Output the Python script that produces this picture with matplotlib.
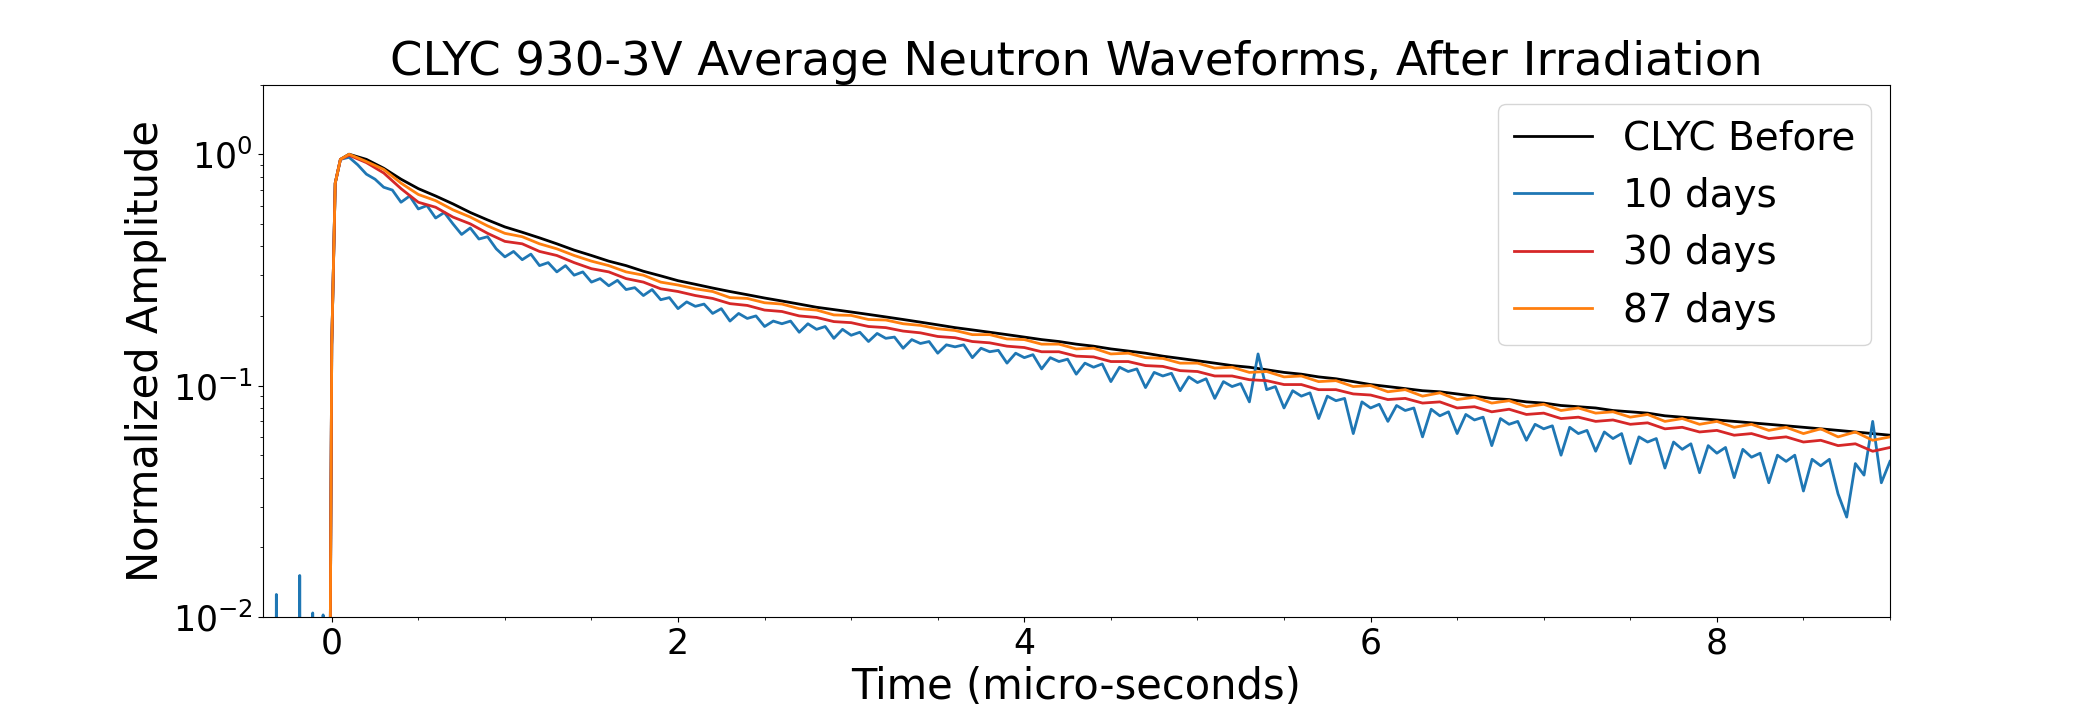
import numpy as np
import matplotlib
matplotlib.use('Agg')
import matplotlib.pyplot as plt
from matplotlib.ticker import AutoMinorLocator

# rising edge shared by all waveforms (micro-seconds, amplitude)
t_rise = [-0.4, -0.015, 0.0, 0.02, 0.05]
v_rise = [0.001, 0.001, 0.15, 0.75, 0.95]

# pre-trigger spikes seen on the 10 day waveform
t_pre_blue = [-0.4, -0.325, -0.32, -0.315, -0.19, -0.185, -0.18,
              -0.115, -0.11, -0.105, -0.055, -0.05, -0.045]
v_pre_blue = [0.001, 0.001, 0.0125, 0.001, 0.001, 0.0151, 0.001,
              0.001, 0.0104, 0.001, 0.001, 0.0102, 0.001]

t_coarse = np.round(np.arange(0.1, 9.001, 0.1), 2)
t_fine = np.round(np.arange(0.1, 9.001, 0.05), 2)

before = [1.00, 0.95, 0.87, 0.78, 0.71, 0.66, 0.61, 0.56, 0.52, 0.485,
          0.46, 0.435, 0.41, 0.385, 0.365, 0.345, 0.33, 0.312, 0.298, 0.284,
          0.274, 0.264, 0.255, 0.247, 0.239, 0.232, 0.225, 0.218, 0.213, 0.208,
          0.203, 0.198, 0.193, 0.188, 0.183, 0.178, 0.174, 0.170, 0.166, 0.162,
          0.158, 0.155, 0.151, 0.148, 0.144, 0.141, 0.138, 0.134, 0.131, 0.128,
          0.125, 0.122, 0.120, 0.117, 0.114, 0.112, 0.109, 0.107, 0.104, 0.101,
          0.099, 0.097, 0.095, 0.094, 0.092, 0.090, 0.088, 0.087, 0.085, 0.084,
          0.082, 0.081, 0.080, 0.078, 0.077, 0.076, 0.074, 0.073, 0.072, 0.071,
          0.070, 0.069, 0.068, 0.067, 0.066, 0.065, 0.064, 0.063, 0.062, 0.061]

days87 = [1.00, 0.93, 0.86, 0.75, 0.67, 0.63, 0.575, 0.535, 0.49, 0.455,
          0.44, 0.41, 0.39, 0.365, 0.345, 0.33, 0.31, 0.30, 0.28, 0.272,
          0.262, 0.255, 0.24, 0.238, 0.228, 0.225, 0.215, 0.212, 0.202, 0.201,
          0.193, 0.192, 0.185, 0.182, 0.176, 0.173, 0.166, 0.166, 0.159, 0.158,
          0.151, 0.151, 0.144, 0.145, 0.137, 0.138, 0.132, 0.131, 0.125, 0.125,
          0.119, 0.120, 0.114, 0.115, 0.109, 0.110, 0.104, 0.105, 0.099, 0.100,
          0.094, 0.096, 0.090, 0.093, 0.087, 0.089, 0.084, 0.086, 0.081, 0.083,
          0.078, 0.080, 0.076, 0.077, 0.073, 0.075, 0.070, 0.072, 0.068, 0.070,
          0.066, 0.068, 0.064, 0.066, 0.062, 0.065, 0.060, 0.063, 0.058, 0.060]

days30 = [0.99, 0.92, 0.83, 0.71, 0.62, 0.59, 0.535, 0.50, 0.455, 0.42,
          0.41, 0.38, 0.365, 0.34, 0.32, 0.31, 0.29, 0.28, 0.262, 0.255,
          0.245, 0.238, 0.226, 0.222, 0.212, 0.209, 0.200, 0.197, 0.189, 0.187,
          0.180, 0.178, 0.172, 0.169, 0.163, 0.161, 0.155, 0.153, 0.148, 0.146,
          0.140, 0.140, 0.134, 0.133, 0.127, 0.127, 0.122, 0.121, 0.116, 0.115,
          0.110, 0.110, 0.106, 0.105, 0.101, 0.101, 0.096, 0.096, 0.092, 0.091,
          0.087, 0.088, 0.084, 0.085, 0.080, 0.081, 0.077, 0.079, 0.075, 0.076,
          0.072, 0.073, 0.070, 0.071, 0.068, 0.069, 0.065, 0.066, 0.063, 0.064,
          0.061, 0.062, 0.059, 0.060, 0.057, 0.058, 0.055, 0.056, 0.052, 0.054]

days10 = [0.97, 0.90, 0.82, 0.78, 0.72, 0.70, 0.62, 0.66, 0.58, 0.60,
          0.53, 0.56, 0.50, 0.45, 0.48, 0.43, 0.44, 0.39, 0.36, 0.38,
          0.35, 0.37, 0.33, 0.34, 0.31, 0.33, 0.30, 0.31, 0.28, 0.29,
          0.27, 0.285, 0.26, 0.265, 0.245, 0.26, 0.235, 0.24, 0.215, 0.23,
          0.22, 0.225, 0.205, 0.215, 0.19, 0.205, 0.195, 0.20, 0.18, 0.19,
          0.185, 0.19, 0.17, 0.185, 0.175, 0.18, 0.16, 0.175, 0.165, 0.17,
          0.155, 0.168, 0.16, 0.162, 0.145, 0.158, 0.152, 0.155, 0.138, 0.15,
          0.147, 0.15, 0.132, 0.145, 0.14, 0.142, 0.125, 0.138, 0.132, 0.136,
          0.118, 0.132, 0.127, 0.13, 0.112, 0.125, 0.12, 0.124, 0.104, 0.12,
          0.115, 0.118, 0.098, 0.114, 0.11, 0.113, 0.095, 0.109, 0.103, 0.107,
          0.088, 0.104, 0.099, 0.102, 0.085, 0.137, 0.096, 0.099, 0.08, 0.095,
          0.09, 0.093, 0.072, 0.09, 0.086, 0.088, 0.062, 0.085, 0.08, 0.083,
          0.07, 0.082, 0.078, 0.08, 0.06, 0.079, 0.074, 0.077, 0.062, 0.075,
          0.071, 0.073, 0.055, 0.072, 0.068, 0.07, 0.058, 0.068, 0.065, 0.067,
          0.05, 0.066, 0.062, 0.064, 0.052, 0.063, 0.059, 0.062, 0.046, 0.06,
          0.057, 0.059, 0.044, 0.057, 0.053, 0.056, 0.042, 0.055, 0.051, 0.054,
          0.04, 0.053, 0.049, 0.051, 0.038, 0.05, 0.047, 0.05, 0.035, 0.048,
          0.045, 0.048, 0.034, 0.027, 0.046, 0.041, 0.07, 0.038, 0.047]

labels = ['CLYC Before', '10 days', '30 days', '87 days']
colors = ['black', '#1f77b4', '#d62728', '#ff7f0e']

fig, ax = plt.subplots(figsize=(21, 7.05), dpi=100)
plt.subplots_adjust(left=0.125, right=0.9, top=0.88, bottom=0.125)

ax.plot(t_rise + list(t_coarse), v_rise + before, color=colors[0], lw=2, label=labels[0])
ax.plot(t_pre_blue + t_rise[1:] + list(t_fine), v_pre_blue + v_rise[1:] + days10,
        color=colors[1], lw=2, label=labels[1])
ax.plot(t_rise + list(t_coarse), v_rise + days30, color=colors[2], lw=2, label=labels[2])
ax.plot(t_rise + list(t_coarse), v_rise + days87, color=colors[3], lw=2, label=labels[3])

ax.set_yscale('log')
ax.set_xlim(-0.4, 9.0)
ax.set_ylim(0.01, 2.0)
ax.xaxis.set_minor_locator(AutoMinorLocator(4))
ax.tick_params(labelsize=25)

ax.set_title('CLYC 930-3V Average Neutron Waveforms, After Irradiation', fontsize=33.5)
ax.set_xlabel('Time (micro-seconds)', fontsize=30, labelpad=4)
ax.set_ylabel('Normalized Amplitude', fontsize=30)
ax.legend(loc='upper right', fontsize=28, handlelength=2.0)

plt.savefig('out.png', dpi=100)
